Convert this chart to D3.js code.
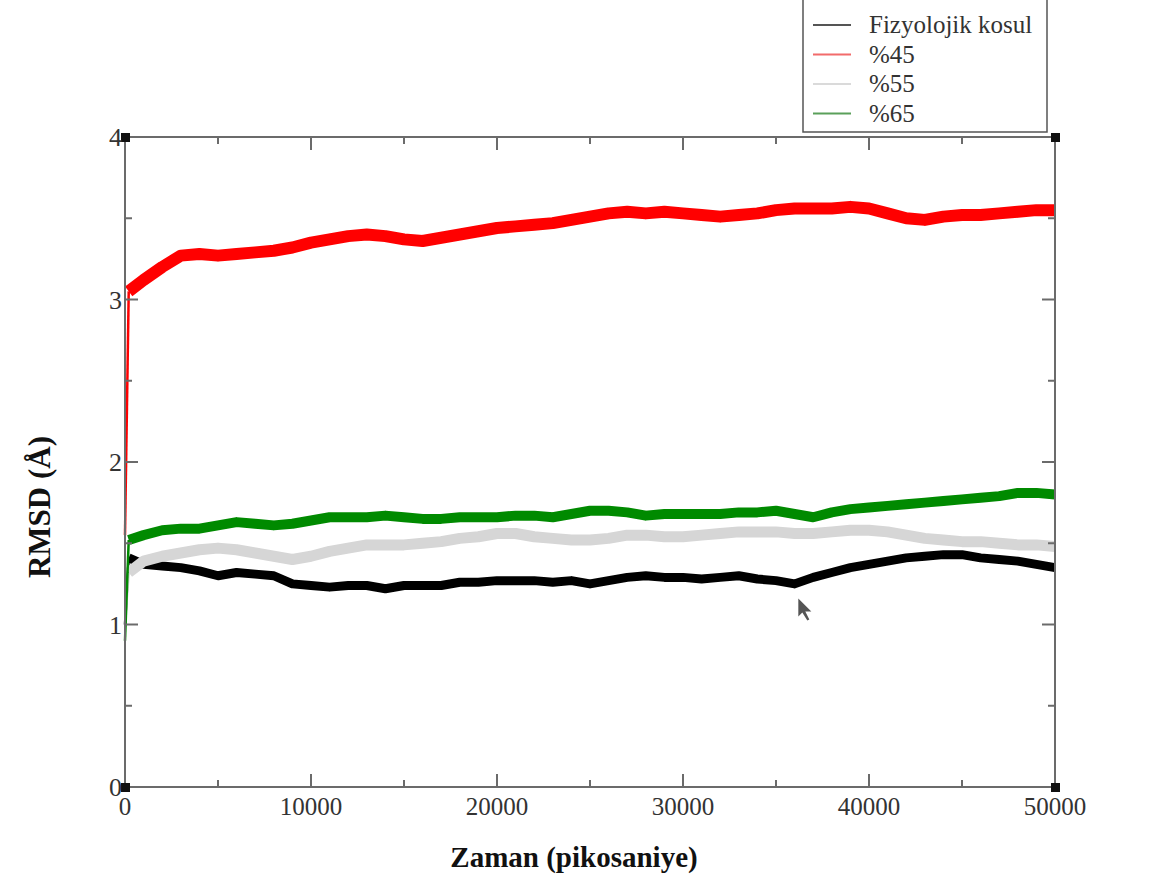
<!DOCTYPE html>
<html lang="tr">
<meta charset="utf-8">
<title>RMSD</title>
<style>
	body { margin: 0; background: #fff; }
	svg { display: block; font-family: "Liberation Serif", "DejaVu Serif", serif; }
</style>
<body>
<div id="chart"></div>
<script src="https://cdn.jsdelivr.net/npm/d3@7/dist/d3.min.js"></script>
<script>
	// Time points (ps) and RMSD values (Å).
	var times = [0, 200, 1000, 2000, 3000, 4000, 5000, 6000, 7000, 8000, 9000,
		10000, 11000, 12000, 13000, 14000, 15000, 16000, 17000, 18000, 19000,
		20000, 21000, 22000, 23000, 24000, 25000, 26000, 27000, 28000, 29000,
		30000, 31000, 32000, 33000, 34000, 35000, 36000, 37000, 38000, 39000,
		40000, 41000, 42000, 43000, 44000, 45000, 46000, 47000, 48000, 49000, 50000];

	var fizyolojik = [1.0, 1.41, 1.37, 1.36, 1.35, 1.33, 1.30, 1.32, 1.31, 1.30, 1.25,
		1.24, 1.23, 1.24, 1.24, 1.22, 1.24, 1.24, 1.24, 1.26, 1.26,
		1.27, 1.27, 1.27, 1.26, 1.27, 1.25, 1.27, 1.29, 1.30, 1.29,
		1.29, 1.28, 1.29, 1.30, 1.28, 1.27, 1.25, 1.29, 1.32, 1.35,
		1.37, 1.39, 1.41, 1.42, 1.43, 1.43, 1.41, 1.40, 1.39, 1.37, 1.35];

	var p45 = [1.55, 3.05, 3.12, 3.20, 3.27, 3.28, 3.27, 3.28, 3.29, 3.30, 3.32,
		3.35, 3.37, 3.39, 3.40, 3.39, 3.37, 3.36, 3.38, 3.40, 3.42,
		3.44, 3.45, 3.46, 3.47, 3.49, 3.51, 3.53, 3.54, 3.53, 3.54,
		3.53, 3.52, 3.51, 3.52, 3.53, 3.55, 3.56, 3.56, 3.56, 3.57,
		3.56, 3.53, 3.50, 3.49, 3.51, 3.52, 3.52, 3.53, 3.54, 3.55, 3.55];

	var p55 = [1.0, 1.32, 1.39, 1.42, 1.44, 1.46, 1.47, 1.46, 1.44, 1.42, 1.40,
		1.42, 1.45, 1.47, 1.49, 1.49, 1.49, 1.50, 1.51, 1.53, 1.54,
		1.56, 1.56, 1.54, 1.53, 1.52, 1.52, 1.53, 1.55, 1.55, 1.54,
		1.54, 1.55, 1.56, 1.57, 1.57, 1.57, 1.56, 1.56, 1.57, 1.58,
		1.58, 1.57, 1.55, 1.53, 1.52, 1.51, 1.51, 1.50, 1.49, 1.49, 1.48];

	var p65 = [0.9, 1.52, 1.55, 1.58, 1.59, 1.59, 1.61, 1.63, 1.62, 1.61, 1.62,
		1.64, 1.66, 1.66, 1.66, 1.67, 1.66, 1.65, 1.65, 1.66, 1.66,
		1.66, 1.67, 1.67, 1.66, 1.68, 1.70, 1.70, 1.69, 1.67, 1.68,
		1.68, 1.68, 1.68, 1.69, 1.69, 1.70, 1.68, 1.66, 1.69, 1.71,
		1.72, 1.73, 1.74, 1.75, 1.76, 1.77, 1.78, 1.79, 1.81, 1.81, 1.80];

	var seriesNames = ["Fizyolojik kosul", "%45", "%55", "%65"];
	var xTicks = [0, 10000, 20000, 30000, 40000, 50000];
	var yTicks = [0, 1, 2, 3, 4];

	var width = 1150, height = 877;
	// plot frame edges ("top" is a reserved window property, so prefix them)
	var plotLeft = 125, plotRight = 1055, plotTop = 137, plotBottom = 787;

	var svg = d3.select("#chart").append("svg")
		.attr("width", width).attr("height", height);

	var x = d3.scaleLinear().domain([0, 50000]).range([plotLeft, plotRight]);
	var y = d3.scaleLinear().domain([0, 4]).range([plotBottom, plotTop]);

	// Series drawn in the same order as the original (green ends on top).
	var series = [
		{ name: seriesNames[0], values: fizyolojik, color: "#555555", plot: "#000000", w: 9 },
		{ name: seriesNames[1], values: p45, color: "#f26b6b", plot: "#ff0000", w: 12 },
		{ name: seriesNames[2], values: p55, color: "#dadada", plot: "#d6d6d6", w: 11 },
		{ name: seriesNames[3], values: p65, color: "#5aa05a", plot: "#008a00", w: 10 }
	];

	var line = d3.line()
		.x(function(d) { return x(d[0]); })
		.y(function(d) { return y(d[1]); });

	var plotG = svg.append("g");
	series.forEach(function(s) {
		var pts = s.values.map(function(v, i) { return [times[i], v]; });
		// first jump from t=0 is a thin trace in the original
		plotG.append("path")
			.attr("d", line(pts.slice(0, 2)))
			.attr("fill", "none")
			.attr("stroke", s.plot)
			.attr("stroke-width", 2.5);
		plotG.append("path")
			.attr("d", line(pts.slice(1)))
			.attr("fill", "none")
			.attr("stroke", s.plot)
			.attr("stroke-width", s.w)
			.attr("stroke-linejoin", "round");
	});

	// Frame and ticks (inward, on all four sides).
	var frameColor = "#6b6b6b";
	var axG = svg.append("g").attr("stroke", frameColor).attr("stroke-width", 2);
	axG.append("rect")
		.attr("x", plotLeft).attr("y", plotTop)
		.attr("width", plotRight - plotLeft).attr("height", plotBottom - plotTop)
		.attr("fill", "none");

	d3.range(0, 50001, 5000).forEach(function(t) {
		var len = (t % 10000 === 0) ? 13 : 7;
		if (t === 0 || t === 50000) return;
		axG.append("line").attr("x1", x(t)).attr("x2", x(t)).attr("y1", plotBottom).attr("y2", plotBottom - len);
		axG.append("line").attr("x1", x(t)).attr("x2", x(t)).attr("y1", plotTop).attr("y2", plotTop + len);
	});
	d3.range(0, 4.01, 0.5).forEach(function(v) {
		var len = (v % 1 === 0) ? 13 : 7;
		if (v === 0 || v === 4) return;
		axG.append("line").attr("x1", plotLeft).attr("x2", plotLeft + len).attr("y1", y(v)).attr("y2", y(v));
		axG.append("line").attr("x1", plotRight).attr("x2", plotRight - len).attr("y1", y(v)).attr("y2", y(v));
	});

	// Small black corner markers.
	[[plotLeft, plotTop], [plotRight, plotTop], [plotLeft, plotBottom], [plotRight, plotBottom]].forEach(function(c) {
		svg.append("rect")
			.attr("x", c[0] - 4).attr("y", c[1] - 4)
			.attr("width", 9).attr("height", 9)
			.attr("fill", "#111");
	});

	// Tick labels.
	svg.append("g").selectAll("text").data(xTicks).join("text")
		.attr("x", function(d) { return x(d); })
		.attr("y", plotBottom + 28)
		.attr("text-anchor", "middle")
		.attr("font-size", 25)
		.attr("fill", "#333")
		.text(function(d) { return d; });

	svg.append("g").selectAll("text").data(yTicks).join("text")
		.attr("x", plotLeft - 3)
		.attr("y", function(d) { return y(d) + 9; })
		.attr("text-anchor", "end")
		.attr("font-size", 26)
		.attr("fill", "#333")
		.text(function(d) { return d; });

	// Axis titles.
	svg.append("text")
		.attr("x", 574).attr("y", 867)
		.attr("text-anchor", "middle")
		.attr("font-size", 29).attr("font-weight", "bold")
		.attr("fill", "#111")
		.text("Zaman (pikosaniye)");

	svg.append("text")
		.attr("transform", "translate(50,507) rotate(-90)")
		.attr("text-anchor", "middle")
		.attr("font-size", 31).attr("font-weight", "bold")
		.attr("fill", "#111")
		.text("RMSD (Å)");

	// Legend box.
	var lg = svg.append("g");
	lg.append("rect")
		.attr("x", 803).attr("y", -3)
		.attr("width", 244).attr("height", 135)
		.attr("fill", "#fff")
		.attr("stroke", "#555").attr("stroke-width", 1.5);
	series.forEach(function(s, i) {
		var ly = 25 + i * 29.5;
		lg.append("line")
			.attr("x1", 813).attr("x2", 851)
			.attr("y1", ly).attr("y2", ly)
			.attr("stroke", s.color).attr("stroke-width", 2);
		lg.append("text")
			.attr("x", 869).attr("y", ly + 8)
			.attr("font-size", 25)
			.attr("fill", "#333")
			.text(s.name);
	});

	// Mouse pointer captured in the original screenshot.
	var px = x(36200), py = y(1.16);
	svg.append("path")
		.attr("d", "M" + px + "," + py + " l0,18 l4,-4 l5,8 l2,-1 l-4,-8 l6,0 z")
		.attr("fill", "#555");
</script>
</body>
</html>
